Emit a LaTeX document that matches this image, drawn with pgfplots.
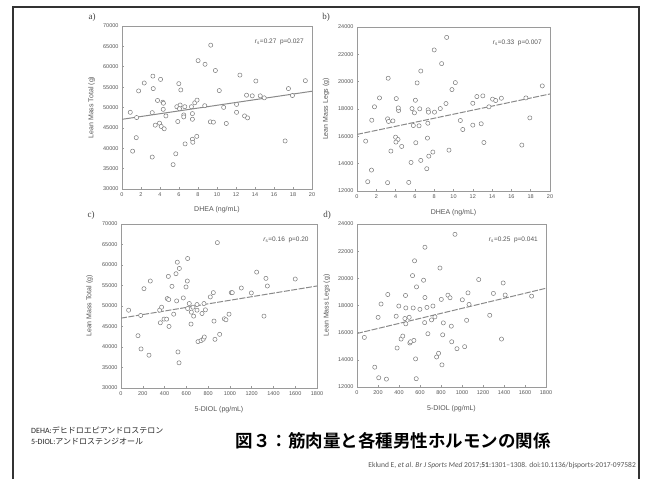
\documentclass[border=0pt]{standalone}
\usepackage{pgfplots}
\pgfplotsset{compat=1.18}
\usepackage{fontspec}
\setmainfont{Liberation Sans}
\newfontfamily\seriffont{Liberation Serif}
\newfontfamily\jp{Noto Sans CJK JP}[BoldFont={Noto Sans CJK JP Bold}]
\newfontfamily\carl{Carlito}

\definecolor{axgray}{HTML}{9A9A9A}
\definecolor{txtgray}{HTML}{555555}
\definecolor{markgray}{HTML}{7A7A7A}
\definecolor{linegray}{HTML}{8A8A8A}

\pgfplotsset{
  panel/.style={
    scale only axis,
    anchor=south west,
    axis line style={axgray, line width=0.9pt},
    tick style={axgray, line width=0.5pt},
    major tick length=2pt,
    xtick pos=bottom, ytick pos=left,
    tick label style={font=\fontsize{5.5}{6}\selectfont, text=txtgray},
    label style={font=\fontsize{7}{8}\selectfont, text=txtgray},
    /pgf/number format/assume math mode=true,
    /pgf/number format/set thousands separator={},
    scaled ticks=false,
    xlabel style={at={(axis description cs:0.5,-0.13)}, anchor=center},
    ylabel style={at={(axis description cs:-0.16,0.5)}, anchor=center},
  },
  dots/.style={only marks, mark=*, mark size=2.1pt, color=markgray, mark options={line width=0.5pt, fill=white, draw=markgray}},
}

\pgfplotstableread{
x y
0.87 48820
1.12 39290
1.54 47530
1.50 42600
1.75 54070
2.34 56010
3.25 57700
3.29 54640
3.18 48740
3.18 37840
3.74 51730
4.06 56900
3.50 45670
3.95 46160
4.13 45350
4.44 44780
4.30 51300
4.36 51050
4.34 49550
4.62 47930
5.38 35980
5.66 38640
5.87 46560
5.77 50190
5.98 55850
6.19 54310
6.12 50600
6.05 49710
6.50 48170
6.50 47690
6.64 41070
6.61 50190
7.41 48500
7.41 47120
7.41 42200
7.45 41470
7.31 50190
7.66 51160
7.90 51810
7.87 42920
8.01 61500
8.74 60610
8.71 50440
9.34 65300
9.30 46480
9.62 46400
9.83 59080
10.24 54150
10.70 50030
10.98 46080
12.06 50760
12.06 48820
12.41 57950
12.90 47930
13.22 47450
13.11 53020
13.71 52860
14.09 56500
14.55 52860
14.97 52370
17.17 41790
17.52 54640
17.94 52940
19.30 56580
}\dataA

\pgfplotstableread{
x y
0.90 15650
1.11 12680
1.50 13530
1.53 17180
1.81 18160
2.33 18810
3.23 20250
3.17 17280
3.27 17090
3.72 17130
3.51 14920
3.17 12610
4.07 18760
4.31 17890
4.28 18080
4.00 15940
4.25 15770
4.03 15580
4.63 15260
5.36 12630
5.60 14090
5.84 16790
5.70 18030
6.05 18640
5.95 17720
6.09 15530
6.23 19910
6.50 18010
6.43 16770
6.61 20780
6.61 14240
7.37 17940
7.41 17770
7.34 16960
7.30 15870
7.23 13630
7.44 14550
7.86 14850
8.03 17770
8.00 22320
8.63 18030
8.77 21320
9.22 18400
9.29 23240
9.53 14990
9.84 19420
10.19 19930
10.71 17160
10.96 16500
12.00 18420
12.00 16820
12.42 18910
12.87 16920
13.04 18960
13.15 15550
13.67 18160
14.05 18720
14.37 18620
14.96 18790
17.08 15360
17.50 18810
17.91 17350
19.20 19690
}\dataB

\pgfplotstableread{
x y
70 48980
156 42760
184 39530
181 47690
211 54230
257 38000
269 56090
355 48980
373 49710
361 45910
395 46800
419 46800
441 45020
425 51810
438 51570
435 57220
468 54800
484 48010
505 57870
511 51240
523 38800
533 36140
517 60690
536 59160
572 51970
597 54640
609 56090
612 61580
612 49390
627 50600
643 45590
646 48500
661 49710
667 47530
698 50360
698 48980
707 41310
735 41550
755 41900
765 42440
744 48170
762 50600
775 49060
820 52210
848 53260
854 46320
863 41870
885 65460
906 43090
949 46880
964 46640
992 48010
1013 53260
1022 53260
1105 54390
1197 53180
1246 58270
1313 47530
1331 56740
1344 54880
1600 56580
}\dataC

\pgfplotstableread{
x y
70 15650
169 13460
207 12680
201 17130
229 18110
280 12580
293 18810
373 17210
382 14870
398 17960
420 15530
436 15750
456 17040
462 18740
465 17820
465 16650
497 17130
503 15240
510 15330
529 20200
535 17820
542 15430
548 21290
558 14070
564 12610
567 19370
599 17720
634 19860
647 22290
647 18590
644 16740
666 17860
675 15920
710 16940
723 17960
742 17160
758 14210
777 14480
790 20760
803 18450
809 13630
822 16720
816 15840
866 18760
886 18570
898 16480
902 15330
933 23240
952 14820
1003 18420
1025 14970
1044 16910
1057 18930
1067 18080
1159 19910
1264 17280
1299 18890
1376 15530
1392 19660
1411 18770
1663 18690
}\dataD

\begin{document}
\begin{tikzpicture}
\path[use as bounding box] (0pt,0pt) rectangle (650pt,479pt);
\draw[line width=1.3pt, black!80] (13pt,0pt) -- (13pt,472pt) -- (639pt,472pt) -- (639pt,0pt);

% a)
\begin{axis}[panel, at={(122pt,290pt)}, width=190pt, height=163pt,
  xmin=0, xmax=20, ymin=30000, ymax=70000,
  xtick={0,2,...,20}, ytick={30000,35000,...,70000},
  xlabel={DHEA (ng/mL)}, ylabel={Lean Mass Total (g)}]
\addplot[dots] table {\dataA};
\addplot[linegray, line width=1pt] coordinates {(0,47100) (20,53990)};
\node[anchor=east, font=\fontsize{6.5}{7}\selectfont, text=txtgray] at (rel axis cs:0.975,0.905) {\textit{r}\textsubscript{s}=0.27\ \ p=0.027};
\end{axis}

% b)
\begin{axis}[panel, at={(357pt,288pt)}, width=193pt, height=164pt,
  xmin=0, xmax=20, ymin=12000, ymax=24000,
  xtick={0,2,...,20}, ytick={12000,14000,...,24000},
  xlabel={DHEA (ng/mL)}, ylabel={Lean Mass Legs (g)}]
\addplot[dots] table {\dataB};
\addplot[linegray, line width=1pt, dash pattern=on 6pt off 1.5pt] coordinates {(0,16140) (20,19100)};
\node[anchor=east, font=\fontsize{6.5}{7}\selectfont, text=txtgray] at (rel axis cs:0.975,0.905) {\textit{r}\textsubscript{s}=0.33\ \ p=0.007};
\end{axis}

% c)
\begin{axis}[panel, at={(121pt,91pt)}, width=196pt, height=164pt,
  xmin=0, xmax=1800, ymin=30000, ymax=70000,
  xtick={0,200,...,1800}, ytick={30000,35000,...,70000},
  xlabel={5-DIOL (pg/mL)}, ylabel={Lean Mass Total (g)}]
\addplot[dots] table {\dataC};
\addplot[linegray, line width=1pt, dash pattern=on 6pt off 1.5pt] coordinates {(0,47040) (1800,54880)};
\node[anchor=east, font=\fontsize{6.5}{7}\selectfont, text=txtgray] at (rel axis cs:0.975,0.905) {\textit{r}\textsubscript{s}=0.16\ \ p=0.20};
\end{axis}

% d)
\begin{axis}[panel, at={(357pt,92pt)}, width=189pt, height=163pt,
  xmin=0, xmax=1800, ymin=12000, ymax=24000,
  xtick={0,200,...,1800}, ytick={12000,14000,...,24000},
  xlabel={5-DIOL (pg/mL)}, ylabel={Lean Mass Legs (g)}]
\addplot[dots] table {\dataD};
\addplot[linegray, line width=1pt, dash pattern=on 6pt off 1.5pt] coordinates {(0,15940) (1800,19270)};
\node[anchor=east, font=\fontsize{6.5}{7}\selectfont, text=txtgray] at (rel axis cs:0.975,0.905) {\textit{r}\textsubscript{s}=0.25\ \ p=0.041};
\end{axis}

\node[font=\seriffont\fontsize{9}{10}\selectfont, text=black!75] at (92pt,462pt) {a)};
\node[font=\seriffont\fontsize{9}{10}\selectfont, text=black!75] at (326pt,462pt) {b)};
\node[font=\seriffont\fontsize{9}{10}\selectfont, text=black!75] at (91pt,264pt) {c)};
\node[font=\seriffont\fontsize{9}{10}\selectfont, text=black!75] at (327pt,264pt) {d)};

\node[anchor=west, align=left, font=\fontsize{8}{11}\selectfont, text=black!85, inner sep=0pt] at (31pt,43pt)
  {{\carl DEHA:}{\jp デヒドロエピアンドロステロン}\\{\carl 5-DIOL:}{\jp アンドロステンジオール}};
\node[font=\jp\bfseries\fontsize{17.5}{19}\selectfont, inner sep=0pt] at (393pt,38pt) {図３：筋肉量と各種男性ホルモンの関係};
\node[anchor=east, font=\carl\fontsize{7.5}{9}\selectfont, text=txtgray, inner sep=0pt] at (636pt,13pt)
  {Eklund E, \textit{et al}. \textit{Br J Sports Med} 2017;\textbf{51}:1301–1308. doi:10.1136/bjsports-2017-097582};
\end{tikzpicture}
\end{document}
